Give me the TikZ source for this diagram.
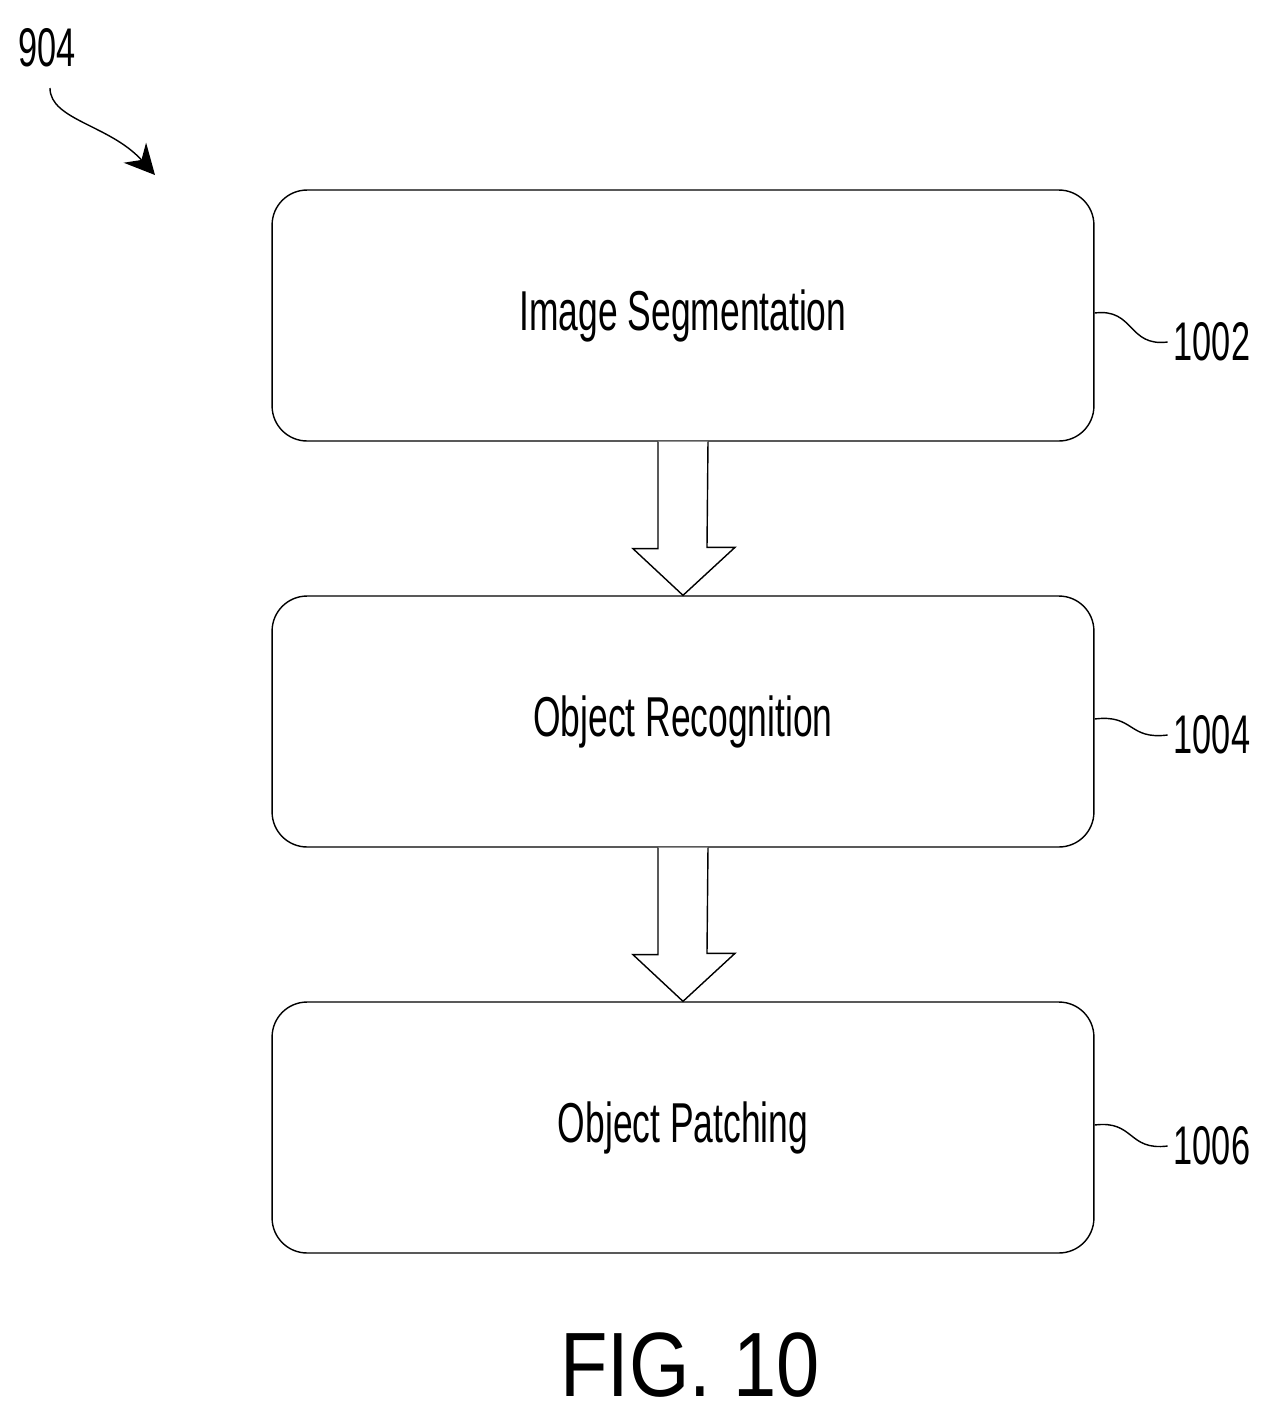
\documentclass[tikz,border=0pt]{standalone}
\usepackage{fontspec}
\setmainfont{Liberation Sans}
\newfontfamily\narrowfont[FakeStretch=0.63]{Liberation Sans}
\newfontfamily\figfont[FakeStretch=0.85]{Liberation Sans}
\usetikzlibrary{positioning,arrows.meta}
\tikzset{%
    stage/.style={draw,thick,rounded corners=0.7cm,minimum width=16.44cm,minimum height=5.02cm,
        font=\narrowfont\fontsize{32}{32}\selectfont},
    refnum/.style={font=\narrowfont\fontsize{31}{31}\selectfont},
    hollow/.style={draw,thick,fill=white}
}
\begin{document}
\begin{tikzpicture}[x=0.02cm,y=-0.02cm]
    \useasboundingbox (0,0) rectangle (1271,1418);
    \node[stage](seg) at (683,315.5) {\raisebox{-0.2cm}{Image Segmentation}};
    \node[stage](rec) at (683,721.5) {\raisebox{-0.2cm}{Object Recognition}};
    \node[stage](pat) at (683,1127.5) {\raisebox{-0.2cm}{Object Patching}};
    % hollow arrows between the stages
    \foreach \a/\b in {seg/rec,rec/pat}
    {
    \draw[hollow] ([xshift=-0.5cm]\a.south) -- ++(0,107) -- ++(-25,0)
        -- (\b.north) -- ++(52,-48) -- ++(-28,0) -- ([xshift=0.5cm]\a.south);
    }
    \node[refnum](n1) at (1212,342) {1002};
    \node[refnum](n2) at (1212,735) {1004};
    \node[refnum](n3) at (1212,1146) {1006};
    \foreach \b/\n in {seg/n1,rec/n2,pat/n3}
    {
    \draw[thick] ([yshift=0.05cm]\b.east) .. controls +(40,-5) and +(-40,5) .. (\n.west);
    }
    \node[refnum](top) at (47,48) {904};
    \coordinate (tip) at (155,175);
    \draw[thick,-{Stealth[length=0.6cm,width=0.6cm]}] (50,88) .. controls (50,120) and (110,125) .. (tip);
    \node[font=\figfont\fontsize{52}{52}\selectfont](fig) at (690,1365) {FIG. 10};
\end{tikzpicture}
\end{document}
